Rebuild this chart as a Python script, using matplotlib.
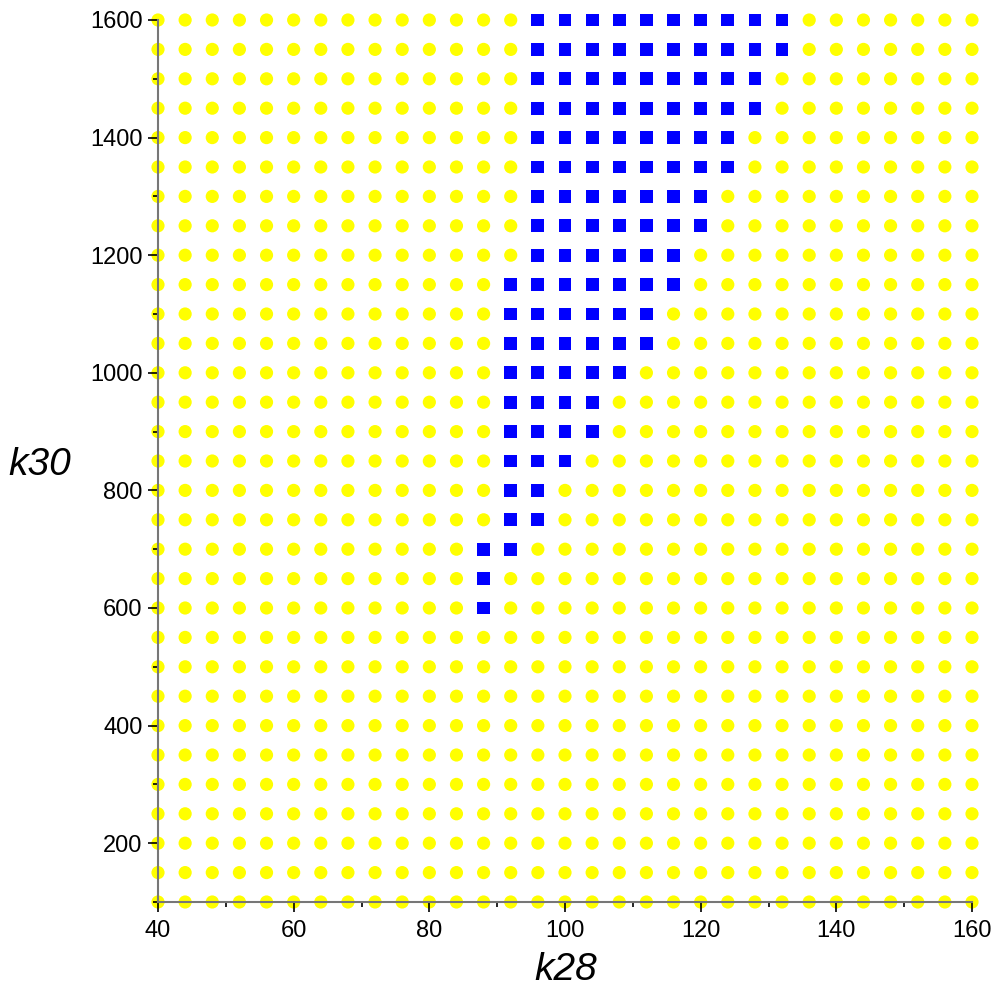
import numpy as np
import matplotlib
matplotlib.use('Agg')
import matplotlib.pyplot as plt
from matplotlib.ticker import MultipleLocator

plt.rcParams['font.family'] = ['Liberation Sans', 'DejaVu Sans']

# Parameter grid
k28_values = list(range(40, 161, 4))
k30_values = list(range(100, 1601, 50))

# Blue region: for each k30 row, the k28 span (inclusive) marked blue
blue_k30 = [600, 650, 700, 750, 800, 850, 900, 950, 1000, 1050, 1100,
            1150, 1200, 1250, 1300, 1350, 1400, 1450, 1500, 1550, 1600]
blue_lo = [88, 88, 88, 92, 92, 92, 92, 92, 92, 92, 92,
           92, 96, 96, 96, 96, 96, 96, 96, 96, 96]
blue_hi = [88, 88, 92, 96, 96, 100, 104, 104, 108, 112, 112,
           116, 116, 120, 120, 124, 124, 128, 128, 132, 132]

span = {k: (lo, hi) for k, lo, hi in zip(blue_k30, blue_lo, blue_hi)}

yx, yy, bx, by = [], [], [], []
for k30 in k30_values:
    for k28 in k28_values:
        if k30 in span and span[k30][0] <= k28 <= span[k30][1]:
            bx.append(k28)
            by.append(k30)
        else:
            yx.append(k28)
            yy.append(k30)

fig = plt.figure(figsize=(10, 10), dpi=100)
ax = fig.add_axes([0.158, 0.098, 0.814, 0.882])
ax.set_axisbelow(False)

# markers under the axis lines, like the original
ax.scatter(yx, yy, marker='o', s=90, color='#FFFF00', edgecolors='none',
           clip_on=False, zorder=1)
ax.scatter(bx, by, marker='s', s=85, color='#0000FF', edgecolors='none',
           clip_on=False, zorder=1)

ax.set_xlim(40, 160)
ax.set_ylim(100, 1600)

for side in ['top', 'right']:
    ax.spines[side].set_visible(False)
for side in ['left', 'bottom']:
    ax.spines[side].set_color('#777777')
    ax.spines[side].set_linewidth(1.5)
    ax.spines[side].set_zorder(4)

ax.xaxis.set_major_locator(MultipleLocator(20))
ax.xaxis.set_minor_locator(MultipleLocator(10))
ax.yaxis.set_major_locator(MultipleLocator(200))
ax.yaxis.set_minor_locator(MultipleLocator(100))
ax.tick_params(which='major', length=7, width=1.2, color='black', labelsize=17, pad=6)
ax.tick_params(which='minor', length=3.5, width=1.2, color='black')
ax.tick_params(axis='y', which='major', pad=4)

fig.text(0.566, 0.030, 'k28', fontsize=28, style='italic', ha='center', va='center')
fig.text(0.040, 0.535, 'k30', fontsize=28, style='italic', ha='center', va='center')

fig.savefig('out.png', dpi=100)
